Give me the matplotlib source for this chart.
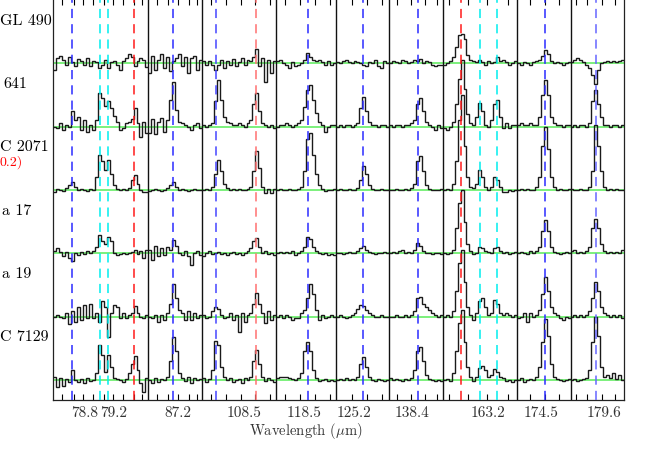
import numpy as np
import matplotlib
matplotlib.use("Agg")
import matplotlib.pyplot as plt
from matplotlib.transforms import blended_transform_factory

plt.rcParams['font.family'] = 'serif'
plt.rcParams['font.serif'] = ['cmr10']
plt.rcParams['mathtext.fontset'] = 'cm'
plt.rcParams['axes.unicode_minus'] = False

# window edges along the x axis (channel units), one window per line
window_edges = [0, 32, 50, 75, 95, 113, 131, 156, 174, 192]

# tick labels (wavelength in micron) and where they sit
tick_pos = [10.7, 20.3, 41.9, 64.1, 84.5, 101.3, 120.7, 146.1, 164.0, 185.4]
tick_lab = ['78.8', '79.2', '87.2', '108.5', '118.5', '125.2', '138.4', '163.2', '174.5', '179.6']
minor_pos = [3, 7, 10, 13.5, 17, 20, 23.5, 27, 30, 35, 38.5, 42, 45.5, 48.5, 53, 58, 63, 68, 73,
             78, 83, 88, 93, 100.5, 105.5, 110.5, 115.5, 120.5, 125, 129, 133, 139.5, 146, 153,
             160.5, 165.5, 170, 176, 179.5, 184.5, 189]

# rest positions of the lines (dashed markers)
line_pos = [6.3, 15.6, 18.5, 27.3, 40.2, 54.9, 68.2, 85.6, 104.1, 122.6, 137.1, 143.5, 149.2, 165.3, 182.5]
line_col = ['#2b2bff', '#00eeee', '#00eeee', '#ff1a1a', '#2b2bff', '#4545ff', '#ff7070', '#2b2bff',
            '#2b2bff', '#2b2bff', '#ff1a1a', '#00eeee', '#00eeee', '#2b2bff', '#6666ff']

# source names (as visible) and continuum-subtracted fluxes, in 1/100 of the offset step
names = ['GL 490', '641', 'C 2071', 'a 17', 'a 19', 'C 7129']
name_x = [0, 3, 0, 2, 2, 0]   # pixels from left edge

spec_gl490 = [
    [-10, 8, 12, 5, -3, 10, 2, -5, 6, 3, -2, 8, -5, 4, 2, -8, -3, 5, -8, 2, 3, -2, -10, 4, 8, 14, 10, -5, 3, 9, 5, -6],
    [-15, 12, -10, 5, 15, -8, 10, -12, 3, 8, 14, -5, 10, -15, 8, 12, -10, 5],
    [3, -2, 4, -2, -10, -3, 5, -8, 3, -2, 6, -5, 2, 8, -3, 5, 3, 10, 22, -5, 8, -29, 5, -15, 3],
    [3, 5, 0, -2, -8, 2, -5, -3, 0, 5, 16, 10, 5, 3, 5, 2, -2, 3, -3, 0],
    [2, 0, 3, 5, 2, 0, 3, 2, 0, -3, -5, 2, 0, 5, -5, -8, 3, 0],
    [0, 3, 2, 0, 5, 3, 0, 2, 5, 3, 6, 0, 3, 2, -3, -5, -2, -3],
    [-2, 0, 3, 10, 26, 45, 47, 38, 13, 5, 3, 2, 5, 2, -3, 3, 0, 2, 10, 3, 5, 2, -2, 0, 3],
    [0, -2, 2, 0, -3, 2, 3, 5, 12, 21, 14, 3, 0, 2, 0, -2, 0, 2],
    [2, 5, 8, 5, 2, -3, -8, -18, -32, -10, 0, 2, 3, 2, 3, 2, 3, 5],
]
spec_641 = [
    [0, -3, 5, -5, 3, 0, 24, 10, 15, -5, 10, -8, 3, -5, 10, 53, 45, 32, 40, 30, 16, 8, -5, -3, 5, 8, 12, 30, 5, -16, 8, -10],
    [-10, 12, -12, 8, 14, -8, 10, 42, 71, 26, 8, 5, 3, 0, -5, 2, 5, -3],
    [3, 0, 2, 5, 40, 74, 42, 15, 8, 5, 3, 2, 5, 3, 0, 5, 10, 35, 53, 25, 5, 2, 0, 3, -3],
    [0, 3, 2, 5, 3, 0, 2, 5, 10, 31, 58, 66, 42, 21, 8, 3, -8, 0, 2, 3],
    [0, 2, 0, 3, 2, 0, 2, 5, 30, 47, 25, 8, 3, 2, 0, 2, 3, 0],
    [2, 0, 3, 2, 0, 3, 2, 5, 10, 35, 45, 25, 8, 3, 0, -5, 2, -3],
    [-3, -5, 0, 8, 35, 75, 105, 60, 20, 5, 2, 15, 38, 25, 3, 0, 10, 35, 42, 15, -3, 5, -2, 3, 2],
    [3, 5, 2, 3, 5, 2, 3, 15, 50, 74, 50, 15, 5, 3, 2, 0, 3, 2],
    [0, 2, 0, 3, 2, 0, 5, 40, 58, 35, 15, 3, 2, 0, 3, 2, 0, 3],
]
spec_c2071 = [
    [-3, 2, 0, -2, 3, 8, 13, 5, 0, 2, 0, -2, 2, 0, 20, 55, 45, 32, 47, 25, 8, 2, 0, 2, 0, 3, 15, 24, 10, 0, -3, -3],
    [-2, 0, 2, 0, -2, 0, 3, 8, 13, 5, 0, 2, 0, -2, 0, 2, 0, 0],
    [0, 2, 0, 5, 25, 47, 30, 10, 3, 0, 2, 0, 2, 0, 0, 2, 5, 30, 61, 35, 5, -5, 2, -5, 2],
    [0, 2, 0, 0, 2, 0, 0, 2, 5, 30, 80, 90, 55, 25, 8, 2, -2, 0, 0, 2],
    [0, 2, 0, 0, 2, 0, 0, 3, 15, 37, 25, 8, 2, 0, 0, 2, 0, 0],
    [0, 0, 2, 0, 0, 2, 0, 3, 10, 45, 53, 30, 8, 2, 0, 0, 0, 2],
    [0, 2, 0, 10, 45, 110, 150, 70, 20, 5, 3, 10, 32, 20, 5, 0, 5, 21, 15, 5, -3, -3, 0, -2, 0],
    [0, 2, 0, 2, 0, 0, 5, 20, 70, 100, 65, 20, 5, 0, 2, 0, 0, 2],
    [2, 0, 0, 2, 0, 0, 5, 30, 103, 70, 30, 5, 0, 2, 0, 2, 0, 0],
]
spec_a17 = [
    [3, 8, 2, -5, 2, -8, -12, 0, -3, 2, -2, 3, 0, 3, 10, 28, 20, 15, 26, 20, 0, -3, -2, 0, -2, 0, 2, 5, -2, 3, -8, 5],
    [5, -10, 12, -5, 8, -3, 10, 5, 21, 12, 0, -3, 3, -5, -18, 0, 3, -3],
    [-5, 0, 3, -2, 0, 2, -2, 0, -3, 0, 2, -2, 0, -3, 0, 3, 8, 20, 24, 10, 0, 3, -2, 0, -3],
    [0, 2, 0, 2, 0, 3, -3, 0, 3, 10, 25, 22, 10, 3, 0, -2, 0, -3, -2, -3],
    [0, 0, -2, 0, 2, 0, 0, 3, 8, 11, 5, 2, 0, -2, 0, 0, 2, 0],
    [0, 2, 0, 3, 5, 0, 2, 0, 5, 16, 12, 3, 0, 0, -2, 0, 0, -2],
    [0, -2, 0, 5, 40, 80, 100, 50, 15, 3, -2, 0, 10, 8, 3, 2, 0, 8, 10, 3, 0, 2, -2, 0, 2],
    [0, 2, 0, -2, 3, 0, 3, 10, 35, 53, 35, 10, 2, 0, -2, 0, 2, 0],
    [3, 5, 0, 2, 0, 3, 10, 40, 54, 40, 15, 3, 0, 2, 0, 2, 0, 5],
]
spec_a19 = [
    [0, 2, 0, -3, 5, -12, 8, -8, 15, -5, 18, -3, 20, -2, 5, -8, 24, 15, -32, 5, 18, 15, -3, 5, -2, 3, 5, 16, 5, 0, -3, 2],
    [0, -3, 2, -8, 3, -5, 5, 20, 51, 30, 10, 5, -5, 8, -5, 5, -3, 3],
    [3, -3, 0, 8, 15, 12, 3, -3, 0, 5, -5, 3, -24, 5, -8, 3, 5, 20, 37, 20, 5, -10, 8, -5, 3],
    [0, 3, -3, 2, 0, -5, -3, -2, 5, 10, 30, 52, 35, 10, -5, 3, -2, 0, 2, 0],
    [0, 2, 0, -2, 0, 2, 5, 12, 18, 16, 10, 5, 2, 0, 0, 2, 0, 0],
    [0, 0, 2, 0, 0, 2, 0, 3, 8, 30, 31, 20, 15, 10, 5, 3, 0, 2],
    [0, 2, 0, 8, 40, 85, 105, 55, 15, 3, -5, 5, 25, 29, 15, 3, 5, 26, 20, 5, 3, 5, 2, 0, 2],
    [-3, 0, 5, -8, 5, 0, 3, 10, 35, 62, 40, 15, 5, 2, -3, -5, 0, -3],
    [0, 2, 0, 2, 0, 2, 8, 30, 55, 40, 15, 5, 2, 0, 2, 0, 2, -3],
]
spec_c7129 = [
    [5, -11, 3, -10, 2, -3, 15, 0, -3, 2, -5, 3, -2, 0, 10, 55, 40, 13, 39, 20, 3, 2, 0, -3, 2, 10, 25, 38, 15, -5, -19, 3],
    [0, -5, 3, -3, 2, 0, 5, 30, 68, 45, 10, 3, -2, 5, -5, 3, 0, 2],
    [3, -3, 2, 15, 61, 55, 20, 5, 0, 3, -3, 0, 2, -5, 3, 0, 5, 30, 47, 25, 5, -2, 3, 0, -3],
    [3, 4, 5, 5, 3, 2, 0, 3, 10, 45, 60, 45, 15, 3, -2, 0, 2, -2, 0, -2],
    [0, 2, 0, 3, 0, 2, 0, 5, 25, 36, 20, 5, 0, -2, 2, 0, -2, 0],
    [3, 0, 2, 0, -2, 2, 0, 3, 15, 45, 52, 30, 8, 2, 0, -2, 0, -2],
    [0, 2, -2, 10, 45, 90, 110, 60, 20, 5, -2, 5, 18, 22, 15, 5, 8, 17, 12, 5, 3, -2, 0, -3, 0],
    [0, 3, -3, 0, 2, 0, 5, 20, 60, 96, 70, 25, 5, 2, 0, -2, 0, 2],
    [0, 2, -2, 0, 2, 3, 15, 60, 99, 70, 20, 5, 8, 3, 10, 2, 8, 0],
]

spectra = [spec_gl490, spec_641, spec_c2071, spec_a17, spec_a19, spec_c7129]
nrow = len(spectra)

fig = plt.figure(figsize=(6.71, 4.71), dpi=100)
ax = fig.add_axes([0.0794, 0.1507, 0.8506, 0.8523])

for r, spec in enumerate(spectra):
    base = nrow - 1 - r
    ax.axhline(base, color='#66ee66', lw=1.2, zorder=1)
    for c, vals in enumerate(spec):
        v = np.array(vals) / 100.0 + base
        edges = np.linspace(window_edges[c], window_edges[c + 1], len(v) + 1)
        ax.stairs(v, edges, baseline=None, color='#1a1a1a', lw=1.0, zorder=3)

for xe in window_edges[1:-1]:
    ax.axvline(xe, color='#111111', lw=1.0, zorder=2)

for xp, col in zip(line_pos, line_col):
    ax.axvline(xp, color=col, lw=1.1, ls=(0, (6, 4)), zorder=4)

# source labels, partly cut at the left edge
tr = blended_transform_factory(fig.transFigure, ax.transData)
for r, nm in enumerate(names):
    ax.text(name_x[r] / 671.0, nrow - 1 - r + 0.67, nm, transform=tr, fontsize=11.5,
            ha='left', va='center', color='black')
ax.text(0.0, nrow - 1 - 2 + 0.44, '0.2)', transform=tr, fontsize=10, ha='left', va='center',
        color='red')

ax.set_xlim(window_edges[0], window_edges[-1])
ax.set_ylim(-0.319, 6.022)
ax.set_yticks([])
ax.set_xticks(tick_pos)
ax.set_xticklabels(tick_lab, fontsize=11, color='#333333')
ax.set_xticks(minor_pos, minor=True)
ax.tick_params(axis='x', which='major', length=0, pad=4.5)
ax.tick_params(axis='x', which='minor', direction='in', length=4, width=0.8, top=True, bottom=True)
ax.set_xlabel(r'Wavelength ($\mu$m)', fontsize=10.5, color='#333333')
ax.xaxis.set_label_coords(0.443, -0.053)
for sp in ax.spines.values():
    sp.set_linewidth(0.9)
    sp.set_color('#222222')

fig.savefig('out.png', dpi=100)
